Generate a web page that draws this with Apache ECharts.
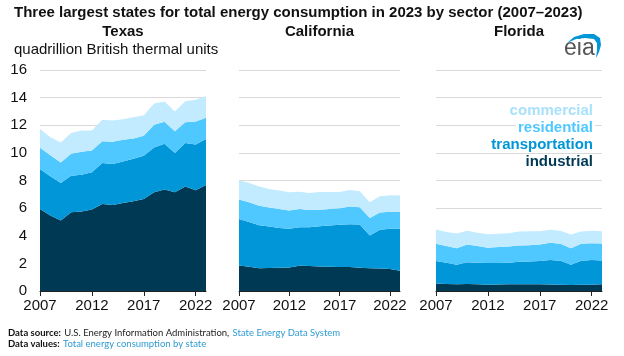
<!DOCTYPE html>
<html><head><meta charset="utf-8">
<script src="https://cdn.jsdelivr.net/npm/echarts@6/dist/echarts.min.js"></script>
<style>html,body{margin:0;padding:0;background:#fff}#c{width:624px;height:356px}</style>
</head><body><div id="c"></div>
<script>
const years = ['2007','2008','2009','2010','2011','2012','2013','2014','2015','2016','2017','2018','2019','2020','2021','2022','2023'];
const yTicks = [0, 2, 4, 6, 8, 10, 12, 14, 16];
const states = ['Texas', 'California', 'Florida'];
const sectors = ['industrial', 'transportation', 'residential', 'commercial'];

const texasIndustrial      = [5.94,5.46,5.10,5.70,5.75,5.90,6.30,6.23,6.38,6.50,6.66,7.15,7.34,7.15,7.56,7.29,7.68];
const texasTransportation  = [2.89,2.84,2.72,2.65,2.67,2.69,2.96,2.96,3.00,3.08,3.13,3.24,3.32,2.84,3.15,3.32,3.32];
const texasResidential     = [1.54,1.52,1.49,1.59,1.66,1.59,1.59,1.61,1.57,1.46,1.45,1.64,1.59,1.58,1.51,1.66,1.54];
const texasCommercial      = [1.35,1.32,1.45,1.49,1.54,1.44,1.54,1.54,1.49,1.54,1.49,1.54,1.47,1.42,1.52,1.57,1.58];

const caIndustrial         = [1.85,1.76,1.64,1.66,1.68,1.71,1.83,1.81,1.78,1.76,1.74,1.73,1.69,1.64,1.62,1.59,1.47];
const caTransportation     = [3.37,3.24,3.12,3.01,2.89,2.79,2.79,2.81,2.91,2.98,3.05,3.11,3.12,2.38,2.81,2.91,3.05];
const caResidential        = [1.40,1.42,1.42,1.37,1.37,1.32,1.32,1.25,1.20,1.20,1.20,1.27,1.25,1.27,1.25,1.23,1.21];
const caCommercial         = [1.39,1.40,1.38,1.35,1.33,1.33,1.25,1.23,1.28,1.23,1.18,1.20,1.16,1.13,1.18,1.20,1.18];

const flIndustrial         = [0.55,0.50,0.48,0.50,0.48,0.46,0.47,0.48,0.48,0.49,0.48,0.47,0.46,0.43,0.45,0.46,0.48];
const flTransportation     = [1.62,1.55,1.42,1.59,1.57,1.56,1.55,1.57,1.64,1.65,1.69,1.77,1.73,1.47,1.74,1.78,1.73];
const flResidential        = [1.25,1.20,1.20,1.28,1.20,1.11,1.16,1.17,1.18,1.18,1.20,1.25,1.23,1.20,1.23,1.22,1.23];
const flCommercial         = [1.03,1.03,1.06,0.99,0.96,0.98,0.96,0.97,1.01,1.01,0.96,0.94,0.94,0.99,0.89,0.90,0.89];

const stateData = [
  [texasIndustrial, texasTransportation, texasResidential, texasCommercial],
  [caIndustrial, caTransportation, caResidential, caCommercial],
  [flIndustrial, flTransportation, flResidential, flCommercial]
];

const colors = ['#003953', '#0096d7', '#4fc8ff', '#c2ebff'];
const legendColors = ['#003953', '#0096d7', '#4fc8ff', '#a9e1fb'];

const grids = [
  {left: 40, top: 70, width: 166, height: 221},
  {left: 239, top: 70, width: 161, height: 221},
  {left: 436, top: 70, width: 166, height: 221}
];

const FONT = '"Liberation Sans", Arial, sans-serif';
const xAxes = [], yAxes = [], series = [];
grids.forEach((g, i) => {
  xAxes.push({
    type: 'category', gridIndex: i, data: years, boundaryGap: false,
    axisLine: {show: true, lineStyle: {color: '#222', width: 1}},
    axisTick: {show: true, interval: 4, length: 5, lineStyle: {color: '#222'}},
    axisLabel: {interval: 4, color: '#111', fontSize: 15, fontFamily: FONT, margin: 7}
  });
  yAxes.push({
    type: 'value', gridIndex: i, min: yTicks[0], max: yTicks[yTicks.length - 1], interval: 2,
    axisLine: {show: false}, axisTick: {show: false},
    axisLabel: {show: i === 0, color: '#111', fontSize: 15, fontFamily: FONT, margin: 13},
    splitLine: {show: true, lineStyle: {color: '#d9d9d9', width: 1}}
  });
  stateData[i].forEach((vals, k) => {
    series.push({
      type: 'line', name: sectors[k], xAxisIndex: i, yAxisIndex: i, stack: states[i],
      data: vals, showSymbol: false, symbol: 'none', silent: true,
      lineStyle: {width: 0}, areaStyle: {color: colors[k], opacity: 1}, z: 2
    });
  });
});

const graphic = [
  {type: 'text', x: 14, y: 13, style: {text: 'Three largest states for total energy consumption in 2023 by sector (2007\u20132023)', font: 'bold 15px ' + FONT, fill: '#111', verticalAlign: 'middle'}},
  {type: 'text', x: 14, y: 50, style: {text: 'quadrillion British thermal units', font: '15px ' + FONT, fill: '#111', verticalAlign: 'middle'}}
];
states.forEach((s, i) => {
  const g = grids[i];
  graphic.push({type: 'text', x: g.left + g.width / 2, y: 32, style: {text: s, font: 'bold 15px ' + FONT, fill: '#111', align: 'center', verticalAlign: 'middle'}});
});
const legendY = [162, 145, 128, 111];
sectors.forEach((s, k) => {
  graphic.push({type: 'text', x: 595, y: legendY[k], z: 10, style: {text: s, font: 'bold 15px ' + FONT, fill: legendColors[k], align: 'right', verticalAlign: 'middle', backgroundColor: '#fff', padding: [0, 2, 0, 2]}});
});
// eia logo
graphic.push({type: 'text', x: 564, y: 49, style: {text: 'eia', font: '23px ' + FONT, fill: '#555', verticalAlign: 'middle'}});
graphic.push({type: 'polygon', shape: {points: [[567,43],[574,37],[584,34],[594,34],[600,38],[601,45],[599,52],[596,58],[597,50],[597,43],[594,39],[585,38],[576,39]]}, style: {fill: '#0096d7'}});
// footer
graphic.push({type: 'text', x: 8, y: 333, style: {verticalAlign: 'middle', rich: {b: {font: 'bold 9.5px Lato, ' + FONT, fill: '#111'}, n: {font: '9.5px Lato, ' + FONT, fill: '#222'}, l: {font: '9.5px Lato, ' + FONT, fill: '#2f9bd3'}}, text: '{b|Data source:} {n|U.S. Energy Information Administration,} {l|State Energy Data System}'}});
graphic.push({type: 'text', x: 8, y: 344, style: {verticalAlign: 'middle', rich: {b: {font: 'bold 9.5px Lato, ' + FONT, fill: '#111'}, l: {font: '9.5px Lato, ' + FONT, fill: '#2f9bd3'}}, text: '{b|Data values:} {l|Total energy consumption by state}'}});

const chart = echarts.init(document.getElementById('c'), null, {renderer: 'canvas'});
chart.setOption({
  animation: false,
  grid: grids,
  xAxis: xAxes,
  yAxis: yAxes,
  series: series,
  graphic: graphic
});
</script></body></html>
